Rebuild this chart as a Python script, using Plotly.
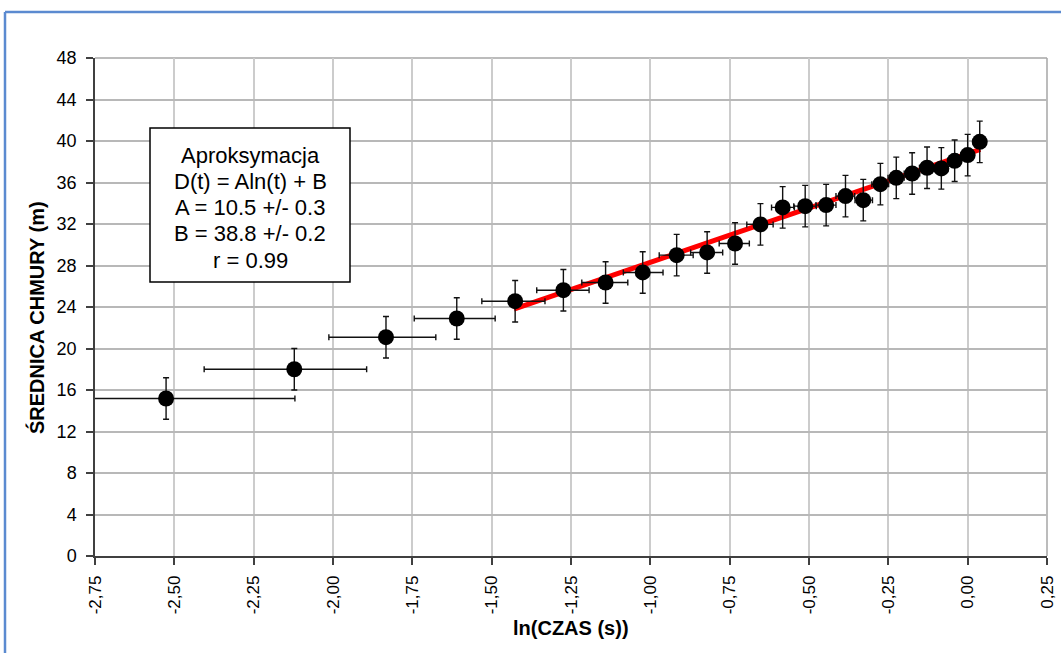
import plotly.graph_objects as go

# ---- data ----
ln_t = [-2.526, -2.122, -1.833, -1.610, -1.426, -1.274, -1.141, -1.024, -0.917, -0.821,
        -0.733, -0.653, -0.583, -0.512, -0.446, -0.385, -0.329, -0.275, -0.225, -0.175,
        -0.128, -0.083, -0.041, 0.000, 0.038]
diameter = [15.18, 18.0, 21.09, 22.89, 24.56, 25.62, 26.36, 27.33, 29.0, 29.26,
            30.12, 31.96, 33.6, 33.72, 33.82, 34.69, 34.3, 35.84, 36.45, 36.87,
            37.42, 37.36, 38.09, 38.64, 39.92]
x_err_plus = [0.406, 0.228, 0.157, 0.121, 0.094, 0.081, 0.070, 0.064, 0.052, 0.049,
              0.045, 0.040, 0.037, 0.035, 0.031, 0.029, 0.029, 0.026, 0.025, 0.024,
              0.023, 0.022, 0.021, 0.020, 0.019]
x_err_minus = [0.700, 0.284, 0.180, 0.134, 0.105, 0.084, 0.075, 0.061, 0.055, 0.052,
               0.050, 0.043, 0.035, 0.036, 0.032, 0.030, 0.026, 0.027, 0.026, 0.025,
               0.024, 0.023, 0.022, 0.021, 0.020]
y_err = [2.0] * len(ln_t)

fit_x = [-1.43, 0.04]
fit_y = [23.8, 39.2]

x_tick_vals = [-2.75, -2.50, -2.25, -2.00, -1.75, -1.50, -1.25, -1.00, -0.75, -0.50, -0.25, 0.00, 0.25]
x_tick_text = ["-2,75", "-2,50", "-2,25", "-2,00", "-1,75", "-1,50", "-1,25", "-1,00",
               "-0,75", "-0,50", "-0,25", "0,00", "0,25"]
y_tick_vals = [0, 4, 8, 12, 16, 20, 24, 28, 32, 36, 40, 44, 48]

box_lines = ["Aproksymacja", "D(t) = Aln(t) + B", "A = 10.5 +/- 0.3",
             "B = 38.8 +/- 0.2", "r = 0.99"]

FONT = "Liberation Sans, Arial, sans-serif"

fig = go.Figure()

fig.add_trace(go.Scatter(
    x=fit_x, y=fit_y, mode="lines",
    line=dict(color="#ff0000", width=5),
    showlegend=False, hoverinfo="skip",
))

fig.add_trace(go.Scatter(
    x=ln_t, y=diameter, mode="markers",
    marker=dict(color="#000000", size=16),
    error_x=dict(type="data", symmetric=False, array=x_err_plus, arrayminus=x_err_minus,
                 color="#111111", thickness=1.4, width=3),
    error_y=dict(type="data", array=y_err, color="#111111", thickness=1.4, width=3),
    showlegend=False,
))

L, R, T, B = 95, 14, 58, 97
W, H = 1061, 653
pw, ph = W - L - R, H - T - B

def px(xp):
    return (xp - L) / pw

def py(yp):
    return (H - B - yp) / ph

shapes = [
    dict(type="line", xref="paper", yref="paper", x0=0, x1=1, y0=1, y1=1,
         line=dict(color="#a6a6a6", width=1.5), layer="below"),
    dict(type="line", xref="paper", yref="paper", x0=1, x1=1, y0=0, y1=1,
         line=dict(color="#a6a6a6", width=1.5), layer="below"),
    dict(type="line", xref="paper", yref="paper", x0=px(5), x1=px(1070), y0=py(12), y1=py(12),
         line=dict(color="#5b8ad0", width=2.5)),
    dict(type="line", xref="paper", yref="paper", x0=px(5), x1=px(5), y0=py(12), y1=py(660),
         line=dict(color="#5b8ad0", width=2.5)),
    dict(type="rect", xref="paper", yref="paper", x0=px(150), x1=px(350), y0=py(282), y1=py(128),
         line=dict(color="#000000", width=1.5), fillcolor="#ffffff", layer="above"),
]

line_y = [155, 181, 207.5, 234, 260]
annotations = [
    dict(xref="paper", yref="paper", x=px(250), y=py(yy), xanchor="center", yanchor="middle",
         text=t, showarrow=False, font=dict(family=FONT, size=22, color="#000000"))
    for t, yy in zip(box_lines, line_y)
]
annotations.append(dict(
    xref="paper", yref="paper", x=0.5, y=py(628), xanchor="center", yanchor="middle",
    text="<b>ln(CZAS (s))</b>", showarrow=False,
    font=dict(family=FONT, size=20, color="#000000")))
annotations.append(dict(
    xref="paper", yref="paper", x=px(36), y=py(318), xanchor="center", yanchor="middle",
    text="<b>ŚREDNICA CHMURY (m)</b>", showarrow=False, textangle=-90,
    font=dict(family=FONT, size=20, color="#000000")))

fig.update_layout(
    width=W, height=H,
    margin=dict(l=L, r=R, t=T, b=B, pad=0),
    paper_bgcolor="#ffffff", plot_bgcolor="#ffffff",
    font=dict(family=FONT, color="#000000"),
    shapes=shapes,
    annotations=annotations,
)

fig.update_xaxes(
    range=[-2.75, 0.25], tickmode="array", tickvals=x_tick_vals, ticktext=x_tick_text,
    tickangle=-90, tickfont=dict(size=17, family=FONT), automargin=False,
    ticks="outside", ticklen=7, tickcolor="#404040", tickwidth=1.5, ticklabelstandoff=4,
    showline=True, linecolor="#404040", linewidth=1.5,
    showgrid=True, gridcolor="#cccccc", gridwidth=1.5, zeroline=False,
)
fig.update_yaxes(
    range=[0, 48], tickmode="array", tickvals=y_tick_vals,
    tickfont=dict(size=18, family=FONT), automargin=False,
    ticks="outside", ticklen=7, tickcolor="#404040", tickwidth=1.5, ticklabelstandoff=6,
    showline=True, linecolor="#404040", linewidth=1.5,
    showgrid=True, gridcolor="#b8b8b8", gridwidth=1.5, zeroline=False,
)

fig.write_html("out.html", config={"displayModeBar": False},
               post_script="document.body.style.margin='0';document.body.style.overflow='hidden';")
